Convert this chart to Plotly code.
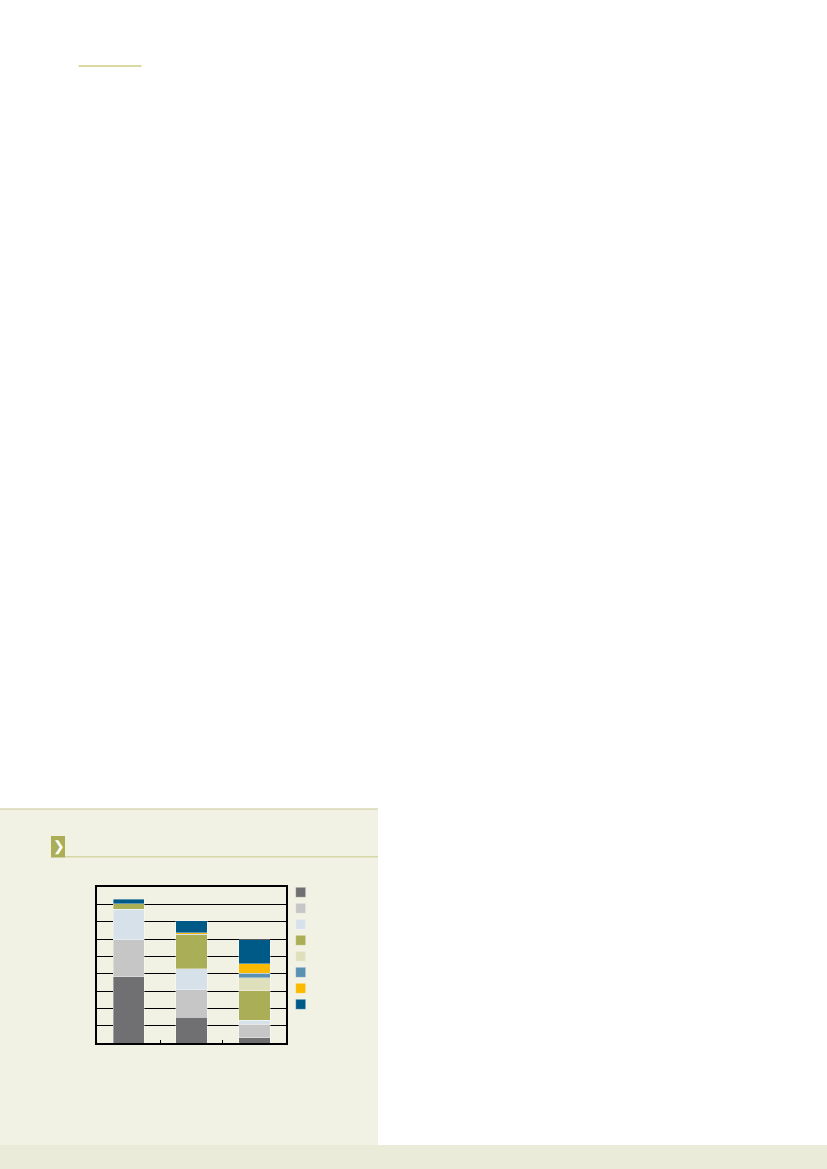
import plotly.graph_objects as go

W, H = 827, 1169

categories = ["1", "2", "3"]
series_names = ["s1", "s2", "s3", "s4", "s5", "s6", "s7", "s8"]
series_colors = ["#707072", "#c6c6c7", "#d7e1ea", "#aaae56", "#dedfbb", "#5a90b0", "#fbb900", "#005a87"]
s1 = [38.3, 15.0, 3.3]
s2 = [21.5, 16.0, 7.7]
s3 = [17.5, 11.9, 2.3]
s4 = [3.3, 19.6, 16.9]
s5 = [0.0, 0.0, 7.5]
s6 = [0.0, 0.3, 2.7]
s7 = [0.0, 1.0, 5.4]
s8 = [2.5, 6.9, 14.0]
series_values = [s1, s2, s3, s4, s5, s6, s7, s8]

y_max = 90
y_step = 10


def px(x):
    return x / W


def py(y):
    return 1 - y / H


fig = go.Figure()
for name, color, vals in zip(series_names, series_colors, series_values):
    fig.add_trace(go.Bar(
        x=categories, y=vals, name=name,
        marker=dict(color=color, line=dict(color="rgba(255,255,255,0.45)", width=0.8)),
        width=0.5, hoverinfo="skip", showlegend=False,
    ))

# legend key squares, one per series, placed by a category axis
fig.add_trace(go.Scatter(
    x=[0] * len(series_names), y=series_names, mode="markers",
    marker=dict(symbol="square", size=10, color=series_colors,
                line=dict(color="rgba(255,255,255,0.45)", width=0.8)),
    xaxis="x2", yaxis="y2", hoverinfo="skip", showlegend=False,
))

shapes = [
    dict(type="rect", xref="paper", yref="paper", x0=0, x1=px(378), y0=py(1145), y1=py(809),
         fillcolor="#f1f1e4", line=dict(width=0), layer="below"),
    dict(type="line", xref="paper", yref="paper", x0=0, x1=px(378), y0=py(809), y1=py(809),
         line=dict(color="#d9d9b3", width=1.5), layer="below"),
    dict(type="rect", xref="paper", yref="paper", x0=0, x1=1, y0=0, y1=py(1145),
         fillcolor="#ebebda", line=dict(width=0), layer="below"),
    dict(type="rect", xref="paper", yref="paper", x0=px(51), x1=px(65), y0=py(857.5), y1=py(836),
         fillcolor="#abae56", line=dict(width=0), layer="below"),
    dict(type="line", xref="paper", yref="paper", x0=px(65), x1=px(378), y0=py(856.7), y1=py(856.7),
         line=dict(color="#d6d6a8", width=1.5), layer="below"),
    dict(type="line", xref="paper", yref="paper", x0=px(78.5), x1=px(141.5), y0=py(66), y1=py(66),
         line=dict(color="#d0cc80", width=1.5), layer="below"),
]

fig.update_layout(
    width=W, height=H,
    margin=dict(l=0, r=0, t=0, b=0),
    paper_bgcolor="white", plot_bgcolor="white",
    barmode="stack", bargap=0.5,
    shapes=shapes,
    showlegend=False,
    annotations=[dict(text="❯", xref="paper", yref="paper", x=px(58.5), y=py(846.5),
                      showarrow=False, font=dict(color="white", size=14, family="DejaVu Sans"),
                      xanchor="center", yanchor="middle")],
    xaxis=dict(domain=[px(97.3), px(285.7)], showticklabels=False,
               ticks="inside", tickson="boundaries", ticklen=4, tickcolor="black", tickwidth=1,
               showline=True, linecolor="black", linewidth=1.5, mirror=True,
               showgrid=False, zeroline=False),
    yaxis=dict(domain=[py(1043.3), py(887.3)], range=[0, y_max], dtick=y_step,
               showticklabels=False, ticks="",
               showgrid=True, gridcolor="black", gridwidth=1.3,
               showline=True, linecolor="black", linewidth=1.5, mirror=True,
               zeroline=False),
    xaxis2=dict(domain=[px(290.7), px(310.7)], range=[-1, 1], autorange=False,
                visible=False, anchor="y2"),
    yaxis2=dict(domain=[py(1012.3), py(884.3)], type="category", autorange=False,
                range=[len(series_names) - 0.5, -0.5], visible=False, anchor="x2"),
)

fig.write_html("out.html", post_script="document.body.style.margin='0';",
               config={"displayModeBar": False})
